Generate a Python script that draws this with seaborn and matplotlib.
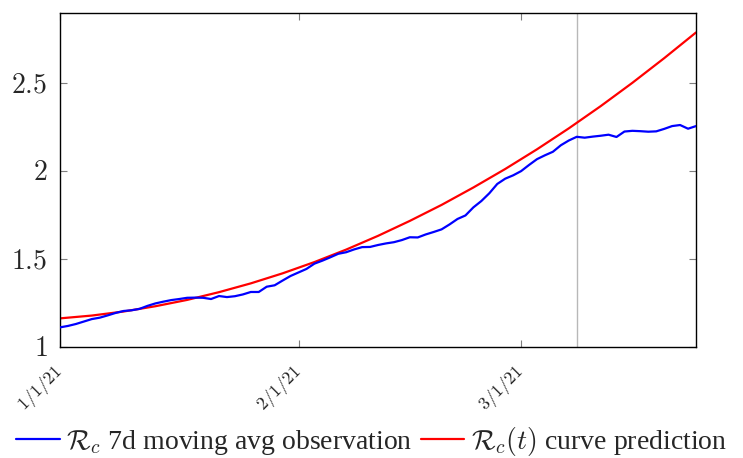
import matplotlib
matplotlib.use("Agg")
import matplotlib.pyplot as plt
import matplotlib.transforms as mtransforms
import pandas as pd
import seaborn as sns

# Observed effective reproduction number, 7-day moving average (day 0 = 1/1/21)
obs_day = list(range(81))
obs_rc = [
    1.110, 1.118, 1.129, 1.143, 1.157, 1.165, 1.178, 1.192, 1.203, 1.207,
    1.215, 1.232, 1.246, 1.256, 1.265, 1.271, 1.278, 1.279, 1.278, 1.271,
    1.288, 1.282, 1.287, 1.297, 1.311, 1.311, 1.341, 1.349, 1.376, 1.402,
    1.422, 1.442, 1.472, 1.489, 1.508, 1.528, 1.537, 1.553, 1.566, 1.567,
    1.578, 1.587, 1.594, 1.606, 1.622, 1.621, 1.638, 1.652, 1.667, 1.695,
    1.726, 1.746, 1.792, 1.828, 1.872, 1.925, 1.955, 1.974, 1.998, 2.033,
    2.066, 2.088, 2.108, 2.145, 2.172, 2.193, 2.188, 2.194, 2.199, 2.205,
    2.192, 2.223, 2.227, 2.225, 2.222, 2.224, 2.238, 2.254, 2.260, 2.239,
    2.254,
]

# Fitted R_c(t) curve
pred_day = list(range(0, 81, 4))
pred_rc = [
    1.161, 1.177, 1.200, 1.230, 1.266, 1.310, 1.360, 1.417, 1.481, 1.552,
    1.630, 1.715, 1.806, 1.905, 2.010, 2.122, 2.241, 2.367, 2.500, 2.640,
    2.786,
]

tick_days = [0, 30, 58]
tick_labels = ["1/1/21", "2/1/21", "3/1/21"]
y_ticks = [1, 1.5, 2, 2.5]
cutoff_day = 65

sns.set_theme(style="ticks")
plt.rcParams["font.family"] = ["Liberation Serif", "DejaVu Serif"]
plt.rcParams["mathtext.fontset"] = "cm"

fig = plt.figure(figsize=(7.43, 4.58), dpi=100)
ax = fig.add_axes([60 / 743, 1 - 346.7 / 458, 636 / 743, 333.4 / 458])

obs = pd.DataFrame({"day": obs_day, "Rc": obs_rc})
pred = pd.DataFrame({"day": pred_day, "Rc": pred_rc})

ax.axvline(cutoff_day, color="#b8b8b8", lw=1.0, zorder=1)
sns.lineplot(data=obs, x="day", y="Rc", color="#0000ff", lw=1.6, ax=ax,
             label=r"$\mathcal{R}_c$ 7d moving avg observation", zorder=3)
sns.lineplot(data=pred, x="day", y="Rc", color="#ff0000", lw=1.6, ax=ax,
             label=r"$\mathcal{R}_c(t)$ curve prediction", zorder=2)

ax.set_xlim(0, 80)
ax.set_ylim(1, 2.895)
ax.set_xlabel("")
ax.set_ylabel("")

ax.set_xticks(tick_days)
ax.set_xticklabels([f"${t}$" for t in tick_labels], rotation=45,
                   ha="right", va="center", fontsize=13,
                   rotation_mode="anchor")
shift = mtransforms.ScaledTranslation(3 / 100, 0, fig.dpi_scale_trans)
for lab in ax.get_xticklabels():
    lab.set_transform(lab.get_transform() + shift)

ax.set_yticks(y_ticks)
ax.set_yticklabels([f"${v:g}$" for v in y_ticks], fontsize=20)

ax.tick_params(axis="both", direction="in", top=True, right=True,
               length=5, width=0.8, color="#7f7f7f")
ax.tick_params(axis="y", pad=9)
ax.tick_params(axis="x", pad=16.5)

for s in ax.spines.values():
    s.set_color("black")
    s.set_linewidth(1.0)

handles, labels = ax.get_legend_handles_labels()
ax.get_legend().remove()
fig.legend(handles, labels, loc="center", bbox_to_anchor=(0.5, 0.036),
           ncol=2, frameon=False, fontsize=20, handlelength=1.56,
           handletextpad=0.24, columnspacing=0.28, borderaxespad=0,
           borderpad=0)

fig.savefig("out.png", dpi=100)
